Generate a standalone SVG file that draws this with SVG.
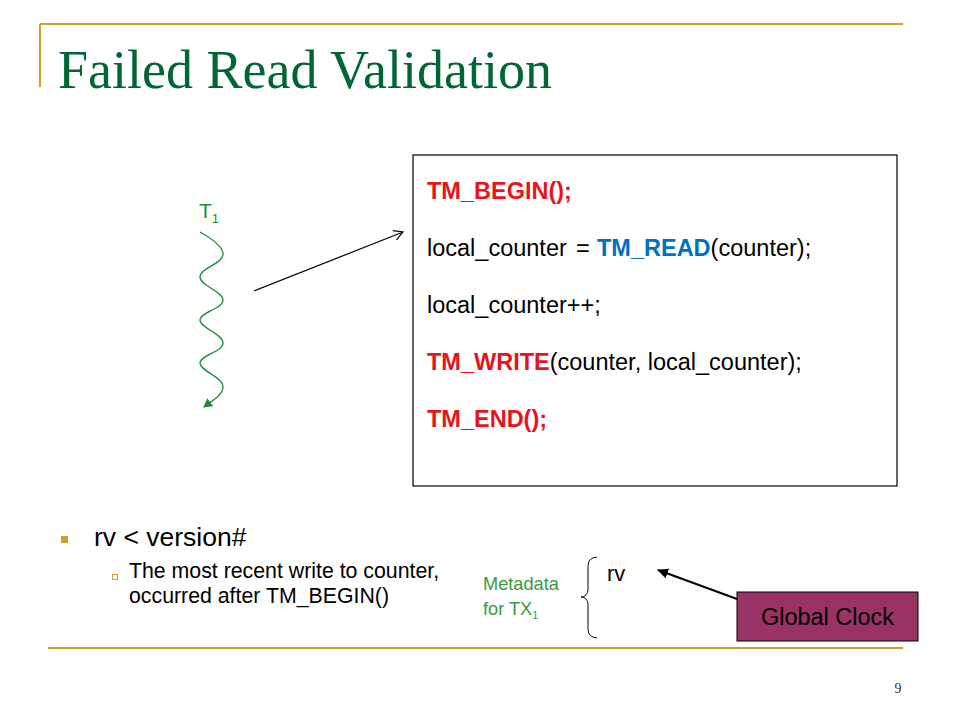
<svg xmlns="http://www.w3.org/2000/svg" width="960" height="720" viewBox="0 0 960 720">
<style>
.sans{font-family:"Liberation Sans",Arial,sans-serif}
.code{font-family:"Liberation Sans",Arial,sans-serif;font-size:23.5px;fill:#000}
.kw{font-weight:bold;fill:#E8141A}
.rd{font-weight:bold;fill:#0070C0}
.rule{stroke:#C9A227;stroke-width:2;fill:none}
</style>
<defs>
<marker id="openArrow" markerWidth="12" markerHeight="12" refX="10" refY="6" orient="auto" markerUnits="userSpaceOnUse">
<path d="M1,1 L10,6 L1,11" fill="none" stroke="#000" stroke-width="1.2"/>
</marker>
<marker id="greenArrow" markerWidth="10" markerHeight="10" refX="8" refY="5" orient="auto" markerUnits="userSpaceOnUse">
<path d="M0,0 L9,5 L0,10 z" fill="#1E8A3C"/>
</marker>
<marker id="blackArrow" markerWidth="12" markerHeight="12" refX="10" refY="6" orient="auto" markerUnits="userSpaceOnUse">
<path d="M0,1 L11,6 L0,11 z" fill="#000"/>
</marker>
</defs>
<rect width="960" height="720" fill="#fff"/>
<g id="frame">
<line class="rule" x1="40" y1="24" x2="903" y2="24"/>
<line class="rule" x1="40" y1="24" x2="40" y2="87"/>
<line class="rule" x1="48" y1="648" x2="903" y2="648"/>
</g>
<g id="title">
<text x="58" y="88" font-family="'Liberation Serif','Times New Roman',serif" font-size="54" fill="#006633">Failed Read Validation</text>
</g>
<g id="thread">
<text x="199" y="218" class="sans" font-size="21" fill="#1E8A3C">T<tspan font-size="13" dy="5">1</tspan></text>
<path d="M200,232 C214,240 224,248 223,255 C222,264 200,268 200,277 C200,286 223,291 223,300 C223,309 200,312 200,320 C200,328 223,334 223,343 C223,352 200,355 200,363 C200,371 223,377 223,387 C223,395 212,401 204,407" fill="none" stroke="#1E8A3C" stroke-width="1.3" marker-end="url(#greenArrow)"/>
</g>
<g id="code-box">
<rect x="413" y="155" width="484" height="331" fill="#fff" stroke="#000" stroke-width="1.2"/>
<text x="427" y="199" class="code kw">TM_BEGIN();</text>
<text x="427" y="256" class="code">local_counter <tspan x="576">=</tspan> <tspan x="597" class="rd">TM_READ</tspan>(counter);</text>
<text x="427" y="313" class="code">local_counter++;</text>
<text x="427" y="370" class="code"><tspan class="kw">TM_WRITE</tspan>(counter, local_counter);</text>
<text x="427" y="427" class="code kw">TM_END();</text>
</g>
<g id="bullets">
<rect x="61" y="536" width="7" height="7" fill="#C9A227"/>
<text x="94" y="546" class="sans" font-size="26.5" fill="#000">rv &lt; version#</text>
<rect x="112.5" y="574.5" width="5" height="5" fill="none" stroke="#C9A227" stroke-width="1"/>
<text x="129" y="578" class="sans" font-size="21.3" fill="#000">The most recent write to counter,</text>
<text x="129" y="603" class="sans" font-size="21.3" fill="#000">occurred after TM_BEGIN()</text>
</g>
<g id="metadata">
<text x="483" y="590" class="sans" font-size="18.2" fill="#3C9A3C">Metadata</text>
<text x="483" y="615" class="sans" font-size="18.2" fill="#3C9A3C">for TX<tspan font-size="11" dy="4">1</tspan></text>
<path d="M597,557 C588,558 588,563 588,570 L588,589 C588,594 585,597 581,597 C585,597 588,600 588,605 L588,625 C588,632 588,637 597,638" fill="none" stroke="#000" stroke-width="1"/>
<text x="607" y="581" class="sans" font-size="22" fill="#000">rv</text>
</g>
<g id="global-clock">
<rect x="737" y="592" width="181" height="49" fill="#993366" stroke="#000" stroke-width="1"/>
<text x="827.5" y="625" class="sans" font-size="23.5" fill="#000" text-anchor="middle">Global Clock</text>
</g>
<g id="connectors">
<line x1="254" y1="291" x2="403" y2="232" stroke="#000" stroke-width="1.2" marker-end="url(#openArrow)"/>
<line x1="737" y1="599" x2="658" y2="570" stroke="#000" stroke-width="2" marker-end="url(#blackArrow)"/>
</g>
<g id="page-number">
<text x="898" y="693" font-family="'Liberation Serif','Times New Roman',serif" font-size="14" fill="#333" text-anchor="middle">9</text>
</g>
</svg>
